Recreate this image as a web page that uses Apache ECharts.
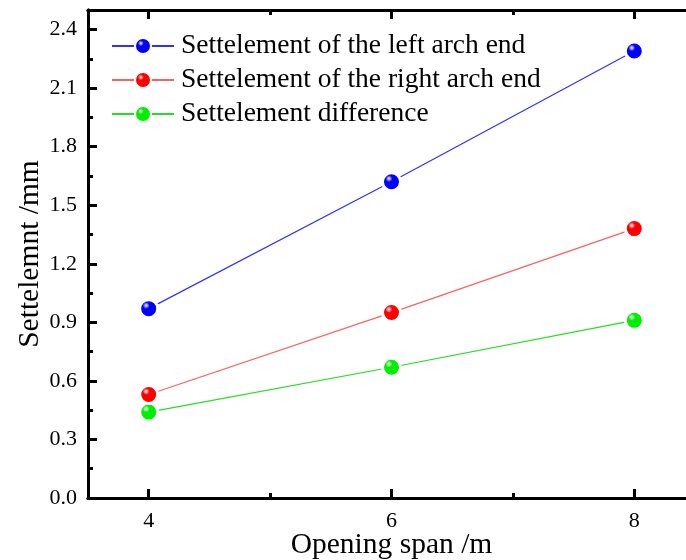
<!DOCTYPE html>
<html>
<head>
<meta charset="utf-8">
<script src="https://cdn.jsdelivr.net/npm/echarts@6/dist/echarts.min.js"></script>
<style>html,body{margin:0;padding:0;background:#fff}#c{width:686px;height:560px}</style>
</head>
<body>
<div id="c"></div>
<script>
var spans = [4, 6, 8];
var leftEnd = [0.97, 1.62, 2.29];
var rightEnd = [0.53, 0.95, 1.38];
var difference = [0.44, 0.67, 0.91];
var seriesNames = ['Settelement of the left arch end', 'Settelement of the right arch end', 'Settelement difference'];
var xMajorTicks = [4, 6, 8];
var xMinorTicks = [5, 7];
var yMajorTicks = [0, 0.3, 0.6, 0.9, 1.2, 1.5, 1.8, 2.1, 2.4];
var yMinorTicks = [0.15, 0.45, 0.75, 1.05, 1.35, 1.65, 1.95, 2.25];

var FONT = 'Liberation Serif';
var colors = ['#0000ff', '#ff0000', '#00ee00'];
var lineColors = ['#3030ff', '#ff6060', '#20e020'];
var darks = ['#000080', '#900000', '#008800'];

function sphere(i) {
  return {
    type: 'radial', x: 0.38, y: 0.35, r: 0.65,
    colorStops: [
      {offset: 0, color: '#ffffff'},
      {offset: 0.25, color: colors[i]},
      {offset: 0.85, color: colors[i]},
      {offset: 1, color: darks[i]}
    ]
  };
}
function pairs(vals) { return spans.map(function (x, k) { return [x, vals[k]]; }); }
function inList(list, v) {
  for (var k = 0; k < list.length; k++) { if (Math.abs(list[k] - v) < 1e-6) return true; }
  return false;
}

var axisLineStyle = {show: true, onZero: false, lineStyle: {color: '#000', width: 3}};
function xAxisDef(pos, ticks, len, labels, name) {
  return {
    type: 'value', min: 3.5, max: 8.5, interval: 0.5, position: pos,
    axisLine: axisLineStyle,
    axisTick: {show: true, inside: true, length: len, customValues: ticks, lineStyle: {color: '#000', width: 3}},
    axisLabel: labels ? {show: true, color: '#000', fontFamily: FONT, fontSize: 22, margin: 12,
      formatter: function (v) { return inList(ticks, v) ? String(v) : ''; }} : {show: false},
    splitLine: {show: false},
    name: name || '', nameLocation: 'middle', nameGap: 32, nameMoveOverlap: false,
    nameTextStyle: {color: '#000', fontFamily: FONT, fontSize: 29.5}
  };
}
function yAxisDef(pos, ticks, len, labels, name) {
  return {
    type: 'value', min: 0, max: 2.5, interval: 0.3, position: pos,
    axisLine: axisLineStyle,
    axisTick: {show: true, inside: true, length: len, customValues: ticks, lineStyle: {color: '#000', width: 3}},
    axisLabel: labels ? {show: true, color: '#000', fontFamily: FONT, fontSize: 22, margin: 11,
      formatter: function (v) { return inList(ticks, v) ? v.toFixed(1) : ''; }} : {show: false},
    splitLine: {show: false},
    name: name || '', nameLocation: 'middle', nameGap: 43, nameMoveOverlap: false,
    nameTextStyle: {color: '#000', fontFamily: FONT, fontSize: 29.5}
  };
}

var all = [leftEnd, rightEnd, difference];
var series = all.map(function (vals, i) {
  return {
    name: seriesNames[i], type: 'line', data: pairs(vals),
    symbol: 'circle', symbolSize: 18,
    lineStyle: {color: lineColors[i], width: 1.2},
    itemStyle: {color: sphere(i), borderColor: '#fff', borderWidth: 3},
    emphasis: {disabled: true}, animation: false, z: 3 - i
  };
});

var chart = echarts.init(document.getElementById('c'));
chart.setOption({
  animation: false,
  textStyle: {fontFamily: FONT, color: '#000'},
  grid: {left: 88, top: 10, right: -9, bottom: 62, outerBoundsMode: 'none', containLabel: false},
  legend: {
    orient: 'vertical', left: 111, top: 32, padding: 0, itemGap: 6, itemWidth: 62, itemHeight: 20,
    data: seriesNames,
    textStyle: {color: '#000', fontFamily: FONT, fontSize: 27.5, padding: [0, 0, 0, 2]}
  },
  xAxis: [
    xAxisDef('bottom', xMajorTicks, 9, true, 'Opening span /m'),
    xAxisDef('top', xMajorTicks, 9, false),
    xAxisDef('bottom', xMinorTicks, 5, false),
    xAxisDef('top', xMinorTicks, 5, false)
  ],
  yAxis: [
    yAxisDef('left', yMajorTicks, 9, true, 'Settelemnt /mm'),
    yAxisDef('right', yMajorTicks, 9, false),
    yAxisDef('left', yMinorTicks, 5, false),
    yAxisDef('right', yMinorTicks, 5, false)
  ],
  series: series
});
</script>
</body>
</html>
